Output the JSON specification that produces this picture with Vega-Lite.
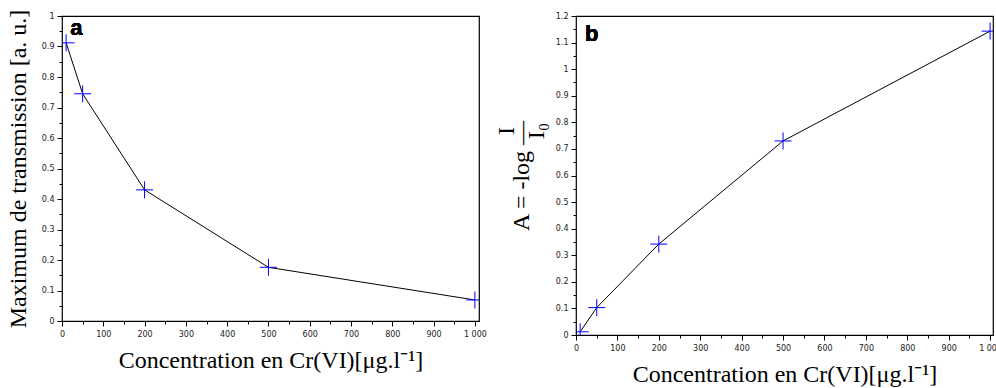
{
  "$schema": "https://vega.github.io/schema/vega-lite/v6.json",
  "background": "white",
  "padding": {"left": 5, "top": 8, "right": 0, "bottom": 0},
  "config": {
    "view": {"stroke": "black", "strokeWidth": 1.2},
    "concat": {"spacing": 6},
    "axis": {
      "domain": false,
      "grid": false,
      "labelFont": "DejaVu Sans",
      "labelFontSize": 8,
      "labelColor": "#222222",
      "tickColor": "black",
      "tickWidth": 1,
      "labelOverlap": false,
      "labelFlush": false,
      "titleFont": "Liberation Serif",
      "titleFontSize": 24,
      "titleFontWeight": "normal",
      "titleColor": "black"
    }
  },
  "hconcat": [
    {
      "width": 417,
      "height": 305,
      "data": {"values": [
        {"c": 10, "v": 0.912},
        {"c": 50, "v": 0.745},
        {"c": 200, "v": 0.43},
        {"c": 500, "v": 0.176},
        {"c": 1000, "v": 0.069}
      ]},
      "layer": [
        {
          "mark": {"type": "line", "color": "black", "strokeWidth": 1, "clip": true},
          "encoding": {
            "x": {"field": "c", "type": "quantitative", "scale": {"domain": [0, 1010], "nice": false, "zero": false},
              "axis": {"orient": "bottom", "values": [0, 100, 200, 300, 400, 500, 600, 700, 800, 900, 1000], "labelExpr": "datum.value == 1000 ? '1 000' : datum.label", "tickSize": 5, "labelPadding": 4, "title": "Concentration en Cr(VI)[μg.l⁻¹]", "titlePadding": 10}},
            "y": {"field": "v", "type": "quantitative", "scale": {"domain": [0, 1], "nice": false},
              "axis": {"orient": "left", "values": [0, 0.1, 0.2, 0.3, 0.4, 0.5, 0.6, 0.7, 0.8, 0.9, 1], "format": "~g", "tickSize": 5, "labelPadding": 3, "title": "Maximum de transmission [a. u.]", "titlePadding": 11}}
          }
        },
        {
          "mark": {"type": "point", "shape": "M-1,0H1M0,-1V1", "size": 289, "stroke": "#0000ff", "strokeWidth": 1, "filled": false, "opacity": 1, "clip": true},
          "encoding": {
            "x": {"field": "c", "type": "quantitative",
              "axis": {"orient": "bottom", "values": [50, 150, 250, 350, 450, 550, 650, 750, 850, 950], "labels": false, "tickSize": 3, "title": null}},
            "y": {"field": "v", "type": "quantitative",
              "axis": {"orient": "left", "values": [0.05, 0.15, 0.25, 0.35, 0.45, 0.55, 0.65, 0.75, 0.85, 0.95], "labels": false, "tickSize": 3, "title": null}}
          }
        },
        {
          "mark": {"type": "text", "text": "a", "font": "Liberation Sans", "fontSize": 22, "fontWeight": "bold", "align": "left", "baseline": "alphabetic", "color": "black"},
          "encoding": {
            "x": {"datum": 20, "type": "quantitative", "axis": null},
            "y": {"datum": 0.938, "type": "quantitative", "axis": null}
          }
        }
      ],
      "resolve": {"axis": {"x": "independent", "y": "independent"}}
    },
    {
      "width": 417,
      "height": 319,
      "data": {"values": [
        {"c": 10, "v": 0.012},
        {"c": 50, "v": 0.103},
        {"c": 200, "v": 0.342},
        {"c": 500, "v": 0.73},
        {"c": 1000, "v": 1.143}
      ]},
      "layer": [
        {
          "mark": {"type": "line", "color": "black", "strokeWidth": 1, "clip": true},
          "encoding": {
            "x": {"field": "c", "type": "quantitative", "scale": {"domain": [0, 1007], "nice": false, "zero": false},
              "axis": {"orient": "bottom", "values": [0, 100, 200, 300, 400, 500, 600, 700, 800, 900, 1000], "labelExpr": "datum.value == 1000 ? '1 000' : datum.label", "tickSize": 5, "labelPadding": 4, "title": "Concentration en Cr(VI)[μg.l⁻¹]", "titlePadding": 10}},
            "y": {"field": "v", "type": "quantitative", "scale": {"domain": [0, 1.2], "nice": false},
              "axis": {"orient": "left", "values": [0, 0.1, 0.2, 0.3, 0.4, 0.5, 0.6, 0.7, 0.8, 0.9, 1, 1.1, 1.2], "format": "~g", "tickSize": 5, "labelPadding": 3,
                "title": ["\u200b\u00a0\u00a0\u00a0\u00a0\u00a0\u00a0\u00a0\u00a0\u00a0\u00a0\u00a0\u00a0\u00a0\u00a0\u00a0I", "A = -log —", "\u200b\u00a0\u00a0\u00a0\u00a0\u00a0\u00a0\u00a0\u00a0\u00a0\u00a0\u00a0\u00a0\u00a0\u00a0\u00a0I₀"], "titleFontSize": 24, "titleLineHeight": 15, "titlePadding": 7}}
          }
        },
        {
          "mark": {"type": "point", "shape": "M-1,0H1M0,-1V1", "size": 289, "stroke": "#0000ff", "strokeWidth": 1, "filled": false, "opacity": 1, "clip": true},
          "encoding": {
            "x": {"field": "c", "type": "quantitative",
              "axis": {"orient": "bottom", "values": [50, 150, 250, 350, 450, 550, 650, 750, 850, 950], "labels": false, "tickSize": 3, "title": null}},
            "y": {"field": "v", "type": "quantitative",
              "axis": {"orient": "left", "values": [0.05, 0.15, 0.25, 0.35, 0.45, 0.55, 0.65, 0.75, 0.85, 0.95, 1.05, 1.15], "labels": false, "tickSize": 3, "title": null}}
          }
        },
        {
          "mark": {"type": "text", "text": "b", "font": "Liberation Sans", "fontSize": 22, "fontWeight": "bold", "align": "left", "baseline": "alphabetic", "color": "black"},
          "encoding": {
            "x": {"datum": 22, "type": "quantitative", "axis": null},
            "y": {"datum": 1.106, "type": "quantitative", "axis": null}
          }
        }
      ],
      "resolve": {"axis": {"x": "independent", "y": "independent"}}
    }
  ]
}
